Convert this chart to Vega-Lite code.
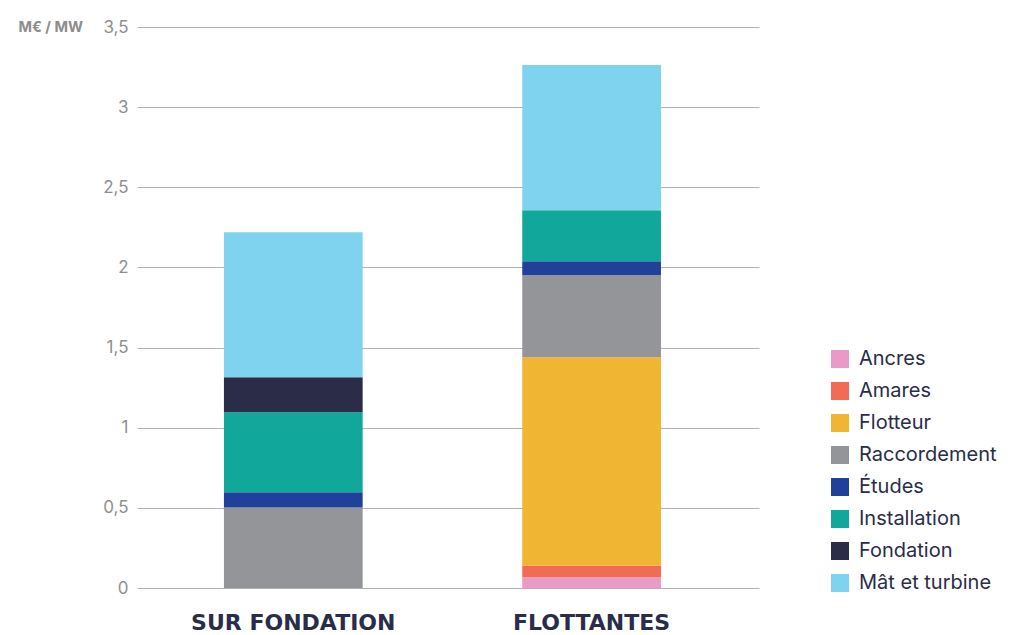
{
  "$schema": "https://vega.github.io/schema/vega-lite/v6.json",
  "width": 622,
  "height": 561,
  "autosize": {"type": "none"},
  "padding": {"left": 137, "top": 27, "right": 252, "bottom": 47},
  "background": "white",
  "config": {"view": {"stroke": null}, "font": "Inter"},
  "data": {
    "values": [
      {"type": "SUR FONDATION", "component": "Raccordement", "ord": 4, "value": 0.503},
      {"type": "SUR FONDATION", "component": "Études", "ord": 5, "value": 0.094},
      {"type": "SUR FONDATION", "component": "Installation", "ord": 6, "value": 0.499},
      {"type": "SUR FONDATION", "component": "Fondation", "ord": 7, "value": 0.219},
      {"type": "SUR FONDATION", "component": "Mât et turbine", "ord": 8, "value": 0.904},
      {"type": "FLOTTANTES", "component": "Ancres", "ord": 1, "value": 0.067},
      {"type": "FLOTTANTES", "component": "Amares", "ord": 2, "value": 0.074},
      {"type": "FLOTTANTES", "component": "Flotteur", "ord": 3, "value": 1.298},
      {"type": "FLOTTANTES", "component": "Raccordement", "ord": 4, "value": 0.512},
      {"type": "FLOTTANTES", "component": "Études", "ord": 5, "value": 0.087},
      {"type": "FLOTTANTES", "component": "Installation", "ord": 6, "value": 0.318},
      {"type": "FLOTTANTES", "component": "Mât et turbine", "ord": 8, "value": 0.907}
    ]
  },
  "mark": {"type": "bar"},
  "encoding": {
    "x": {
      "field": "type",
      "type": "nominal",
      "sort": ["SUR FONDATION", "FLOTTANTES"],
      "scale": {"paddingInner": 0.535, "paddingOuter": 0.31, "align": 0.47},
      "axis": {
        "title": null,
        "labelAngle": 0,
        "labelFont": "DejaVu Sans",
        "labelFontWeight": "bold",
        "labelFontSize": 22,
        "labelLimit": 400,
        "labelColor": "#2a2d4a",
        "labelPadding": 24,
        "ticks": false,
        "domain": false
      }
    },
    "y": {
      "field": "value",
      "type": "quantitative",
      "stack": "zero",
      "scale": {"domain": [0, 3.5], "nice": false},
      "axis": {
        "values": [0, 0.5, 1, 1.5, 2, 2.5, 3, 3.5],
        "labelExpr": "replace(toString(datum.value), '.', ',')",
        "labelFontSize": 17,
        "labelColor": "#8f8f8f",
        "labelPadding": 9,
        "ticks": false,
        "domain": false,
        "grid": true,
        "gridColor": "#b3b3b3",
        "gridWidth": 1,
        "title": "M€ / MW",
        "titleAngle": 0,
        "titleAlign": "left",
        "titleBaseline": "middle",
        "titleX": -119,
        "titleY": 0,
        "titleFontSize": 14.5,
        "titleFontWeight": "bold",
        "titleColor": "#8d8d8d"
      }
    },
    "color": {
      "field": "component",
      "type": "nominal",
      "scale": {
        "domain": ["Ancres", "Amares", "Flotteur", "Raccordement", "Études", "Installation", "Fondation", "Mât et turbine"],
        "range": ["#E99AC6", "#F26B55", "#F0B532", "#939598", "#21409A", "#11A79B", "#2A2C48", "#80D3EE"]
      },
      "legend": {
        "title": null,
        "orient": "none",
        "legendX": 693,
        "legendY": 322,
        "symbolType": "square",
        "symbolSize": 324,
        "symbolStrokeWidth": 0,
        "symbolOpacity": 1,
        "labelFontSize": 20,
        "labelColor": "#2a2d4a",
        "labelOffset": 9,
        "rowPadding": 12,
        "labelLimit": 300
      }
    },
    "order": {"field": "ord", "type": "quantitative"}
  }
}
